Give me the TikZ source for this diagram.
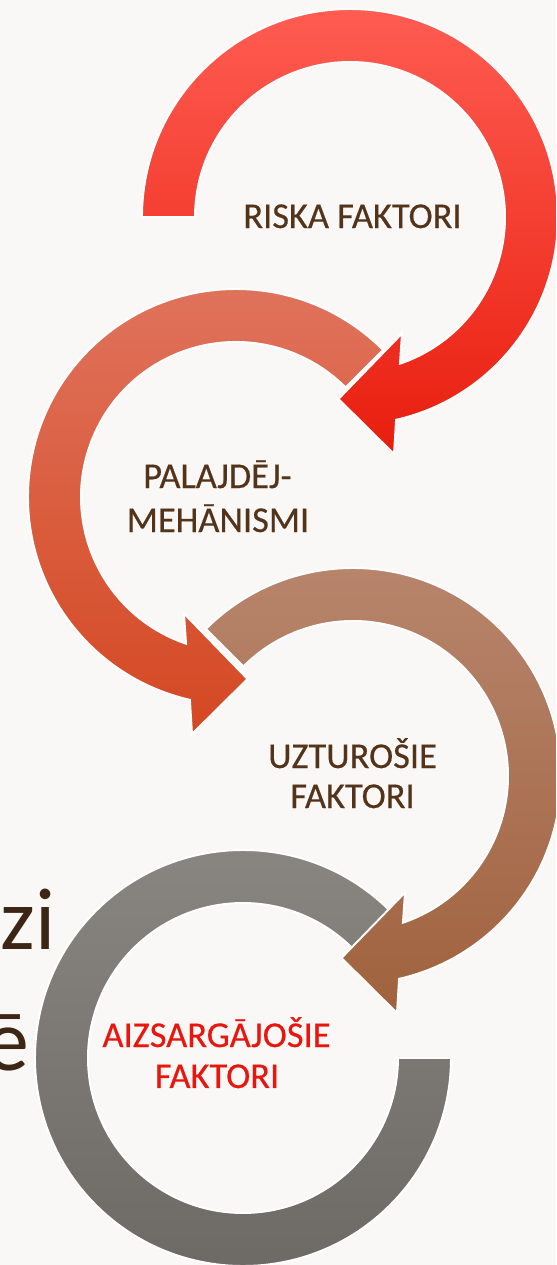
\documentclass[tikz,border=0pt]{standalone}
\usepackage{fontspec}
\setmainfont{Carlito}
\newfontfamily\faktorfont[FakeBold=0.4]{Carlito}
\definecolor{slidebg}{RGB}{250,248,246}
\definecolor{txtbrown}{RGB}{83,52,26}
\definecolor{bigbrown}{RGB}{62,38,22}
\definecolor{txtred}{RGB}{232,22,14}
\definecolor{redtop}{RGB}{255,92,82}
\definecolor{redbot}{RGB}{232,30,14}
\definecolor{salmtop}{RGB}{224,116,94}
\definecolor{salmbot}{RGB}{212,72,34}
\definecolor{browntop}{RGB}{184,134,110}
\definecolor{brownbot}{RGB}{160,98,62}
\definecolor{greytop}{RGB}{138,134,130}
\definecolor{greybot}{RGB}{108,104,100}
\tikzset{
  ringarrow/.style={draw=white, line width=0.55pt},
  faktors/.style={anchor=base, inner sep=0pt, text=txtbrown, font=\faktorfont\fontsize{10.35pt}{12pt}\selectfont},
  slidetext/.style={anchor=base east, inner sep=0pt, text=bigbrown, font=\fontsize{25pt}{30pt}\selectfont}
}
\begin{document}
\begin{tikzpicture}[x=0.01cm, y=0.01cm]
  \fill[slidebg] (0,0) rectangle (556,1265);
  \clip (0,0) rectangle (556,1265);
  \node[slidetext] (zi) at (56,315) {zi};
  \node[slidetext] (ee) at (30,195) {ē};
  \shadedraw[ringarrow, shift={(243,207)}, top color=greytop, bottom color=greybot]
        (45:208) arc[start angle=45, end angle=360, radius=208]
     -- (0:155) arc[start angle=360, end angle=45, radius=155] -- cycle;
  \shadedraw[ringarrow, shift={(353,489)}, top color=browntop, bottom color=brownbot]
        (135:208) arc[start angle=135, end angle=-77.2, radius=208]
     -- (44,-237) -- (-11.5,-182) -- (52,-116.5)
     -- (-71.2:155) arc[start angle=-71.2, end angle=135, radius=155] -- cycle;
  \shadedraw[ringarrow, shift={(236,768)}, xscale=-1, top color=salmtop, bottom color=salmbot]
        (135:208) arc[start angle=135, end angle=-77.2, radius=208]
     -- (44,-237) -- (-11.5,-182) -- (52,-116.5)
     -- (-71.2:155) arc[start angle=-71.2, end angle=135, radius=155] -- cycle;
  \shadedraw[ringarrow, shift={(350,1048)}, top color=redtop, bottom color=redbot]
        (180:208) arc[start angle=180, end angle=-77.2, radius=208]
     -- (44,-237) -- (-11.5,-182) -- (52,-116.5)
     -- (-71.2:155) arc[start angle=-71.2, end angle=180, radius=155] -- cycle;
  \node[faktors] (riska) at (352.5,1037) {RISKA FAKTORI};
  \node[faktors] (palaj) at (217.5,777) {PALAJDĒJ-};
  \node[faktors] (mehan) at (218,733) {MEHĀNISMI};
  \node[faktors] (uztur) at (352.5,497) {UZTUROŠIE};
  \node[faktors] (uzturb) at (352.5,457) {FAKTORI};
  \node[faktors, text=txtred] (aizs) at (216.5,218) {AIZSARGĀJOŠIE};
  \node[faktors, text=txtred] (aizsb) at (217,177) {FAKTORI};
\end{tikzpicture}
\end{document}
